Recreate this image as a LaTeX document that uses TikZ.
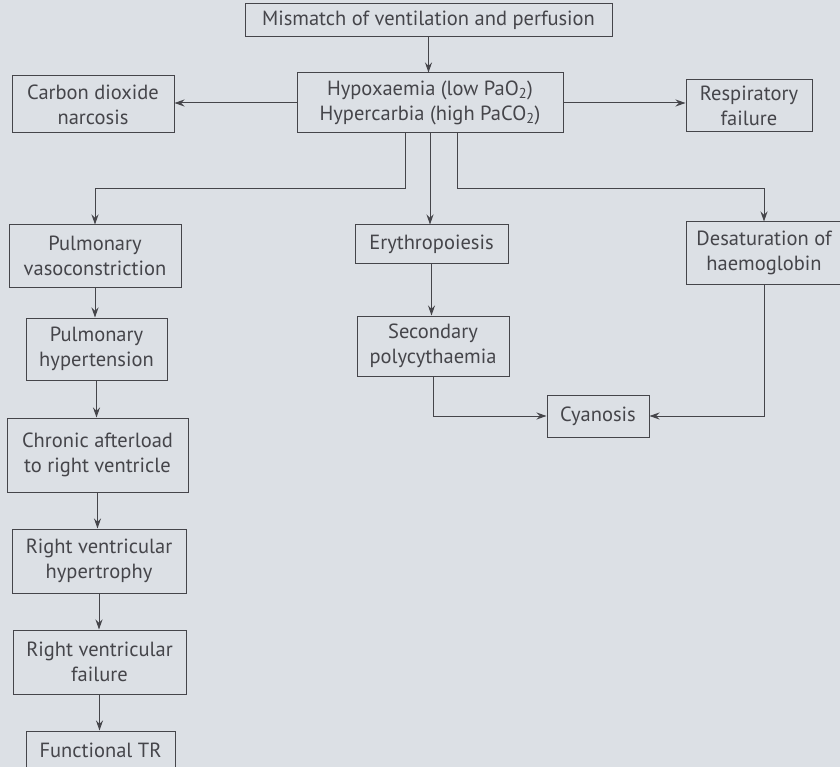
\documentclass[tikz,border=0pt]{standalone}
\usepackage{fontspec}
\setmainfont{PT Sans}
\usetikzlibrary{arrows.meta}
\definecolor{bgc}{HTML}{DCE0E5}
\definecolor{ink}{HTML}{45454A}
\begin{document}
\begin{tikzpicture}[x=1pt,y=-1pt,
  box/.style={draw=ink, line width=1pt, fill=bgc, text=ink, align=center,
    inner sep=0pt, font=\fontsize{20.5}{25}\selectfont},
  arr/.style={draw=ink, line width=1pt, -{Stealth[length=10pt,width=7pt]}},
  ln/.style={draw=ink, line width=1pt}]
\useasboundingbox (0,0) rectangle (840,767);
\fill[bgc] (0,0) rectangle (840,767);
\node[box, minimum width=367pt, minimum height=33pt] (mis) at (428.5,20.5) {Mismatch of ventilation and perfusion};
\node[box, minimum width=266pt, minimum height=60pt] (hyp) at (430,103) {Hypoxaemia (low PaO\textsubscript{2})\\Hypercarbia (high PaCO\textsubscript{2})};
\node[box, minimum width=162pt, minimum height=57pt] (co2) at (93,104.5) {Carbon dioxide\\narcosis};
\node[box, minimum width=126pt, minimum height=52pt] (rf) at (749,106) {Respiratory\\failure};
\node[box, minimum width=172pt, minimum height=62pt] (pv) at (95,256) {Pulmonary\\vasoconstriction};
\node[box, minimum width=153pt, minimum height=39pt] (ery) at (431.5,244.5) {Erythropoiesis};
\node[box, minimum width=156pt, minimum height=62pt] (des) at (764,253) {Desaturation of\\haemoglobin};
\node[box, minimum width=141pt, minimum height=62pt] (ph) at (96.5,349) {Pulmonary\\hypertension};
\node[box, minimum width=152pt, minimum height=60pt] (sp) at (433,346) {Secondary\\polycythaemia};
\node[box, minimum width=102pt, minimum height=42pt] (cy) at (598,416) {Cyanosis};
\node[box, minimum width=181pt, minimum height=74pt] (ca) at (97.5,455) {Chronic afterload\\to right ventricle};
\node[box, minimum width=174pt, minimum height=64pt] (rvh) at (99,561) {Right ventricular\\hypertrophy};
\node[box, minimum width=173pt, minimum height=64pt] (rvf) at (99.5,662) {Right ventricular\\failure};
\node[box, minimum width=149pt, minimum height=60pt, text depth=0pt] (ftr) at (100.5,761) {};
\node[text=ink, font=\fontsize{20.5}{25}\selectfont, inner sep=0pt] (ftrt) at (100.5,750) {Functional TR};
% connectors
\draw[arr] (mis.south) -- (mis.south |- hyp.north);
\draw[arr] (hyp.west) -- (hyp.west -| co2.east);
\draw[arr] (hyp.east) -- (hyp.east -| rf.west);
\draw[arr] ([xshift=-25pt]hyp.south) -- ++(0,55) -| (pv.north);
\draw[arr] (hyp.south) -- (hyp.south |- ery.north);
\draw[arr] ([xshift=27pt]hyp.south) -- ++(0,55) -| (des.north);
\draw[arr] (pv.south) -- (pv.south |- ph.north);
\draw[arr] (ph.south) -- (ph.south |- ca.north);
\draw[arr] (ca.south) -- (ca.south |- rvh.north);
\draw[arr] (rvh.south) -- (rvh.south |- rvf.north);
\draw[arr] (rvf.south) -- (rvf.south |- ftr.north);
\draw[arr] (ery.south) -- (ery.south |- sp.north);
\draw[arr] (sp.south) |- (cy.west);
\draw[arr] (des.south) |- (cy.east);
\end{tikzpicture}
\end{document}
